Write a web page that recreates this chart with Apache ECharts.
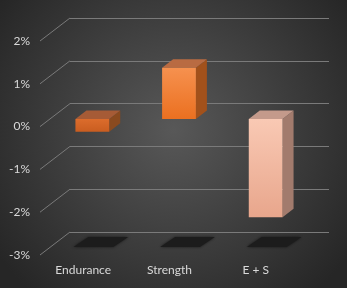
<!DOCTYPE html>
<html>
<head>
<meta charset="utf-8">
<script src="https://cdn.jsdelivr.net/npm/echarts@6/dist/echarts.min.js"></script>
<style>
  html, body { margin: 0; padding: 0; background: #2b2b2b; }
  #chart { width: 347px; height: 288px; }
</style>
</head>
<body>
<div id="chart"></div>
<script>
// chart data
const categories = ['Endurance', 'Strength', 'E + S'];
const values = [-0.3, 1.2, -2.3];
const yMin = -3;
const yMax = 2;
const yStep = 1;
const gridTicks = [-3, -2, -1, 0, 1, 2];

// colours per bar: front (top, bottom), top face, side face
const barColors = [
  { front: ['#dc6c2c', '#c95d20'], top: '#a65b36', side: '#8a4a1f' },
  { front: ['#f6914f', '#eb7020'], top: '#b96b42', side: '#a2511b' },
  { front: ['#f9c9b4', '#e8a68c'], top: '#c49a8b', side: '#a27b6d' }
];

const DEPTH_X = 11, DEPTH_Y = -8.5;   // bar depth
const WALL_X = -30, WALL_Y = 23;      // side wall slant (back -> front)
const labelFont = 'Lato';

const chart = echarts.init(document.getElementById('chart'));

const option = {
  backgroundColor: {
    type: 'radial', x: 0.5, y: 0.45, r: 0.75,
    colorStops: [
      { offset: 0, color: '#585858' },
      { offset: 1, color: '#262626' }
    ]
  },
  animation: false,
  grid: [
    // back wall
    { left: 70, right: 18, top: 18, height: 214 },
    // front plane (labels)
    { left: 40, width: 259, top: 41, height: 214 },
    // bar plane
    { left: 49, width: 260, top: 33.6, height: 213.5 }
  ],
  xAxis: [
    { gridIndex: 0, type: 'category', data: categories, show: false },
    {
      gridIndex: 1, type: 'category', data: categories,
      axisLine: { show: false }, axisTick: { show: false },
      axisLabel: { color: '#d9d9d9', fontSize: 12, fontFamily: labelFont, margin: 9 }
    },
    { gridIndex: 2, type: 'category', data: categories, show: false }
  ],
  yAxis: [
    {
      gridIndex: 0, type: 'value', min: yMin, max: yMax, interval: yStep,
      axisLine: { show: false }, axisTick: { show: false }, axisLabel: { show: false },
      splitLine: { lineStyle: { color: '#7a7a7a', width: 1 } }
    },
    {
      gridIndex: 1, type: 'value', min: yMin, max: yMax, interval: yStep,
      axisLine: { show: false }, axisTick: { show: false }, splitLine: { show: false },
      axisLabel: {
        color: '#d9d9d9', fontSize: 12, fontFamily: labelFont, margin: 10,
        formatter: '{value}%'
      }
    },
    { gridIndex: 2, type: 'value', min: yMin, max: yMax, interval: yStep, show: false }
  ],
  series: [
    {
      // slanted side-wall gridlines
      type: 'custom',
      xAxisIndex: 0, yAxisIndex: 0,
      data: gridTicks.map(t => [0, t]),
      silent: true,
      renderItem: function (params, api) {
        const p = api.coord([0, api.value(1)]);
        const x = params.coordSys.x;
        return {
          type: 'line',
          shape: { x1: x, y1: p[1], x2: x + WALL_X, y2: p[1] + WALL_Y },
          style: { stroke: '#7a7a7a', lineWidth: 1 }
        };
      }
    },
    {
      // 3D bars with floor shadows
      type: 'custom',
      xAxisIndex: 2, yAxisIndex: 2,
      data: values.map((v, i) => [i, v]),
      renderItem: function (params, api) {
        const i = api.value(0);
        const v = api.value(1);
        const c = barColors[i];
        const base = api.coord([i, 0]);
        const end = api.coord([i, v]);
        const floor = api.coord([i, yMin]);
        const w = api.size([1, 0])[0] * 0.39;
        const x0 = base[0] - w / 2;
        const x1 = base[0] + w / 2;
        const yTop = Math.min(base[1], end[1]);
        const yBot = Math.max(base[1], end[1]);
        const fy = floor[1];
        const sx0 = base[0] - w / 2 - 2;
        const sx1 = base[0] + w / 2 + 4;
        return {
          type: 'group',
          children: [
            {
              type: 'polygon',
              shape: { points: [[sx0, fy], [sx1, fy], [sx1 + 15, fy - 10], [sx0 + 15, fy - 10]] },
              style: { fill: '#1c1c1c', shadowBlur: 3, shadowColor: 'rgba(0,0,0,0.6)' }
            },
            {
              type: 'polygon',
              shape: { points: [[x1, yTop], [x1 + DEPTH_X, yTop + DEPTH_Y], [x1 + DEPTH_X, yBot + DEPTH_Y], [x1, yBot]] },
              style: { fill: c.side }
            },
            {
              type: 'polygon',
              shape: { points: [[x0, yTop], [x1, yTop], [x1 + DEPTH_X, yTop + DEPTH_Y], [x0 + DEPTH_X, yTop + DEPTH_Y]] },
              style: { fill: c.top }
            },
            {
              type: 'rect',
              shape: { x: x0, y: yTop, width: w, height: yBot - yTop },
              style: {
                fill: {
                  type: 'linear', x: 0, y: 0, x2: 0, y2: 1,
                  colorStops: [
                    { offset: 0, color: c.front[0] },
                    { offset: 1, color: c.front[1] }
                  ]
                }
              }
            }
          ]
        };
      }
    }
  ]
};

chart.setOption(option);
</script>
</body>
</html>
